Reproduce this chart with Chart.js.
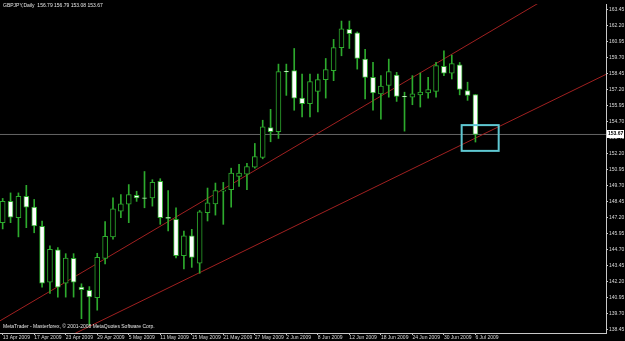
<!DOCTYPE html>
<html>
<head>
<meta charset="utf-8">
<script src="https://cdn.jsdelivr.net/npm/chart.js@4"></script>
<style>
  html, body { margin: 0; padding: 0; background: #000; }
  #wrap { width: 625px; height: 341px; }
</style>
</head>
<body>
<div id="wrap"><canvas id="chart" width="625" height="341"></canvas></div>
<script>
// trading days, 13 Apr 2009 .. 6 Jul 2009
const dates = [
    '13 Apr 2009', '14 Apr 2009', '15 Apr 2009', '16 Apr 2009', '17 Apr 2009',
    '20 Apr 2009', '21 Apr 2009', '22 Apr 2009', '23 Apr 2009', '24 Apr 2009',
    '27 Apr 2009', '28 Apr 2009', '29 Apr 2009', '30 Apr 2009', '1 May 2009',
    '4 May 2009', '5 May 2009', '6 May 2009', '7 May 2009', '8 May 2009',
    '11 May 2009', '12 May 2009', '13 May 2009', '14 May 2009', '15 May 2009',
    '18 May 2009', '19 May 2009', '20 May 2009', '21 May 2009', '22 May 2009',
    '25 May 2009', '26 May 2009', '27 May 2009', '28 May 2009', '29 May 2009',
    '1 Jun 2009', '2 Jun 2009', '3 Jun 2009', '4 Jun 2009', '5 Jun 2009',
    '8 Jun 2009', '9 Jun 2009', '10 Jun 2009', '11 Jun 2009', '12 Jun 2009',
    '15 Jun 2009', '16 Jun 2009', '17 Jun 2009', '18 Jun 2009', '19 Jun 2009',
    '22 Jun 2009', '23 Jun 2009', '24 Jun 2009', '25 Jun 2009', '26 Jun 2009',
    '29 Jun 2009', '30 Jun 2009', '1 Jul 2009', '2 Jul 2009', '3 Jul 2009',
    '6 Jul 2009'
];

const opens = [
    146.79, 148.45, 147.17, 148.85, 148.00, 146.50, 142.15, 144.67, 142.07, 144.00,
    141.76, 141.50, 140.94, 144.00, 145.68, 147.68, 148.23, 148.93, 148.72, 148.72,
    150.01, 147.20, 147.05, 144.21, 145.76, 143.62, 147.56, 148.26, 149.25, 149.37,
    150.40, 150.58, 151.12, 151.87, 154.21, 153.88, 158.60, 158.65, 156.51, 156.07,
    157.03, 157.95, 158.65, 160.45, 161.87, 161.61, 159.55, 158.13, 156.84, 157.49,
    158.31, 156.64, 156.59, 156.76, 156.92, 157.03, 158.98, 158.46, 159.11, 157.10,
    156.79
];
const highs = [
    148.68, 149.11, 149.11, 149.70, 148.60, 146.92, 144.98, 144.85, 144.37, 144.37,
    142.02, 141.80, 144.40, 146.87, 148.72, 148.98, 149.76, 149.24, 150.78, 150.14,
    150.22, 149.29, 147.95, 146.14, 146.27, 147.74, 149.49, 149.88, 149.93, 151.04,
    151.35, 151.42, 152.97, 154.78, 155.63, 159.16, 159.16, 160.38, 158.39, 158.39,
    158.39, 159.60, 161.09, 162.52, 162.52, 161.67, 160.32, 159.29, 158.26, 159.55,
    158.52, 156.97, 158.26, 158.46, 158.13, 159.29, 160.20, 159.86, 159.29, 157.75,
    156.79
];
const lows = [
    146.30, 146.79, 145.68, 146.40, 146.00, 141.76, 141.27, 140.98, 140.98, 140.98,
    139.30, 138.80, 139.96, 143.57, 145.50, 147.17, 146.79, 148.45, 147.95, 148.08,
    146.66, 146.14, 144.03, 143.18, 143.30, 142.84, 146.92, 147.38, 146.66, 148.00,
    149.62, 149.37, 151.04, 151.77, 153.10, 153.36, 156.72, 155.56, 155.04, 155.04,
    155.43, 156.51, 157.87, 159.81, 160.38, 158.77, 156.45, 155.56, 154.86, 156.58,
    156.25, 153.93, 155.99, 155.81, 156.51, 156.58, 158.26, 158.00, 156.76, 156.33,
    153.08
];
const closes = [
    148.45, 147.22, 148.85, 148.00, 146.53, 142.07, 144.70, 141.76, 144.03, 142.15,
    141.56, 140.99, 144.08, 145.73, 147.87, 148.26, 148.98, 148.72, 148.68, 149.93,
    147.17, 147.12, 144.21, 145.76, 144.08, 147.64, 148.33, 149.29, 149.33, 150.65,
    150.65, 151.17, 151.94, 154.26, 153.88, 158.57, 158.55, 156.51, 156.07, 157.80,
    157.95, 158.73, 160.45, 161.92, 161.53, 159.60, 158.13, 156.92, 157.44, 158.57,
    156.64, 156.60, 156.84, 156.97, 157.18, 159.04, 158.46, 159.21, 157.18, 156.72,
    153.67
];

const priceTicks = [
    138.45, 139.70, 140.95, 142.20, 143.45, 144.70, 145.95, 147.20, 148.45, 149.70,
    150.95, 152.20, 153.45, 154.70, 155.95, 157.20, 158.45, 159.70, 160.95, 162.20,
    163.45
];
const dateTickIdx = [0, 4, 8, 12, 16, 20, 24, 28, 32, 36, 40, 44, 48, 52, 56, 60];

const symbolTitle = 'GBPJPY,Daily  156.79 156.79 153.08 153.67';
const copyright = 'MetaTrader - Masterforex, \u00a9 2001-2008 MetaQuotes Software Corp.';
const lastPrice = 153.67;

// trend lines (bar index, price)
const trendUpper = [{ x: -0.34, y: 139.13 }, { x: 76.57, y: 167.03 }];
const trendLower = [{ x: -0.34, y: 135.29 }, { x: 76.57, y: 158.36 }];
// highlight box (bar index range, price range)
const boxBars = [58.25, 62.95];
const boxPrices = [152.39, 154.40];

const X_MIN = -0.34, X_MAX = 76.57;
const Y_MIN = 138.18, Y_MAX = 163.85;

const GREEN = 'rgb(45,170,45)';
const AXIS = '#c8c8c8';
const FONT = { family: 'Liberation Sans', size: 5 };

const wickData = dates.map((d, i) => ({ x: i, y: [lows[i], highs[i]] }));
const bodyData = dates.map((d, i) => ({ x: i, y: [opens[i], closes[i]] }));
const bodyFill = dates.map((d, i) => closes[i] >= opens[i] ? '#000000' : '#ffffff');

const mtPlugin = {
    id: 'mt',
    beforeDraw(chart) {
        const c = chart.ctx;
        c.save();
        c.fillStyle = '#000';
        c.fillRect(0, 0, chart.width, chart.height);
        c.restore();
    },
    afterDraw(chart) {
        const c = chart.ctx;
        const xs = chart.scales.x, ys = chart.scales.y;
        c.save();
        // highlight box
        c.strokeStyle = 'rgb(95,200,210)';
        c.lineWidth = 2;
        const bx0 = xs.getPixelForValue(boxBars[0]), bx1 = xs.getPixelForValue(boxBars[1]);
        const by0 = ys.getPixelForValue(boxPrices[1]), by1 = ys.getPixelForValue(boxPrices[0]);
        c.strokeRect(bx0, by0, bx1 - bx0, by1 - by0);

        // last price label on the price axis
        const py = ys.getPixelForValue(lastPrice);
        const lx = chart.chartArea.right + 1;
        c.fillStyle = '#ffffff';
        c.fillRect(lx, Math.round(py) - 4, 17, 8);
        c.fillStyle = '#000000';
        c.font = 'bold 5px Liberation Sans';
        c.textBaseline = 'middle';
        c.textAlign = 'left';
        c.fillText(lastPrice.toFixed(2), lx + 1, Math.round(py));

        // texts
        c.fillStyle = '#e6e6e6';
        c.font = '5px Liberation Sans';
        c.fillText(symbolTitle, 3, 6);
        c.fillText(copyright, 3, chart.chartArea.bottom - 6);
        c.restore();
    }
};

const ctx = document.getElementById('chart').getContext('2d');
new Chart(ctx, {
    type: 'bar',
    data: {
        datasets: [
            {
                type: 'line',
                data: [{ x: X_MIN, y: lastPrice }, { x: X_MAX, y: lastPrice }],
                borderColor: 'rgb(100,100,100)',
                borderWidth: 1,
                pointRadius: 0,
                order: 5
            },
            {
                type: 'line',
                data: trendUpper,
                borderColor: 'rgb(160,32,32)',
                borderWidth: 1,
                pointRadius: 0,
                order: 4
            },
            {
                type: 'line',
                data: trendLower,
                borderColor: 'rgb(160,32,32)',
                borderWidth: 1,
                pointRadius: 0,
                order: 4
            },
            {
                data: wickData,
                backgroundColor: GREEN,
                barThickness: 1,
                grouped: false,
                order: 2
            },
            {
                data: bodyData,
                backgroundColor: bodyFill,
                borderColor: GREEN,
                borderWidth: 1,
                borderSkipped: false,
                barThickness: 5,
                grouped: false,
                order: 1
            }
        ]
    },
    options: {
        responsive: false,
        animation: false,
        layout: { padding: 0 },
        scales: {
            x: {
                type: 'linear',
                min: X_MIN,
                max: X_MAX,
                offset: false,
                afterBuildTicks: (s) => { s.ticks = dateTickIdx.map(v => ({ value: v })); },
                afterFit: (s) => { s.height = 8; },
                grid: { drawOnChartArea: false, drawTicks: true, tickLength: 2, color: AXIS, offset: false },
                border: { display: true, color: AXIS },
                ticks: {
                    autoSkip: false,
                    maxRotation: 0,
                    align: 'start',
                    padding: 0,
                    color: '#d8d8d8',
                    font: FONT,
                    callback: (v) => dates[v]
                }
            },
            y: {
                position: 'right',
                min: Y_MIN,
                max: Y_MAX,
                beginAtZero: false,
                afterBuildTicks: (s) => { s.ticks = priceTicks.map(v => ({ value: v })); },
                afterFit: (s) => { s.width = 19; },
                grid: { drawOnChartArea: false, drawTicks: true, tickLength: 2, color: AXIS },
                border: { display: true, color: AXIS },
                ticks: {
                    autoSkip: false,
                    padding: 1,
                    color: '#d8d8d8',
                    font: FONT,
                    callback: (v) => v.toFixed(2)
                }
            }
        },
        plugins: {
            legend: { display: false },
            tooltip: { enabled: false }
        }
    },
    plugins: [mtPlugin]
});
</script>
</body>
</html>
